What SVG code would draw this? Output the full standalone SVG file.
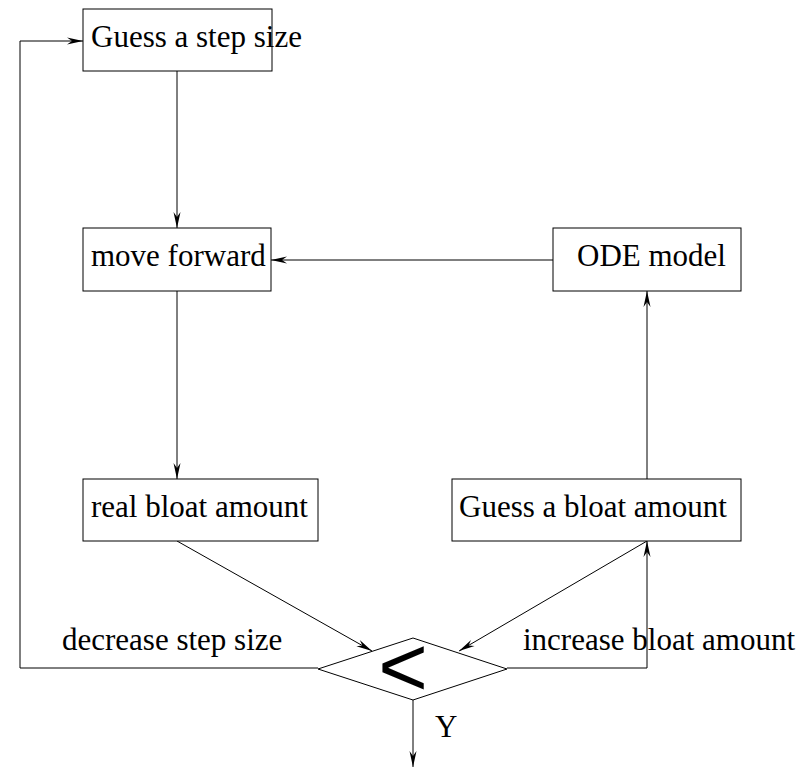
<svg xmlns="http://www.w3.org/2000/svg" width="811" height="768" viewBox="0 0 811 768">
<style>
.box{fill:#fff;stroke:#000;stroke-width:1}
.lbl{font-family:"Liberation Serif","Times New Roman",serif;font-size:31px;fill:#000}
.con{fill:none;stroke:#000;stroke-width:1}
</style>
<defs>
<marker id="ah" markerUnits="userSpaceOnUse" markerWidth="20" markerHeight="10" refX="0" refY="0" viewBox="-17 -5 18 10" orient="auto">
<path d="M0,0 L-16,-3.5 L-11,0 L-16,3.5 Z" fill="#000"/>
</marker>
</defs>
<rect width="811" height="768" fill="#fff"/>
<g id="connectors">
<polyline class="con" points="318,668 20,668 20,41 83,41" marker-end="url(#ah)"/>
<line class="con" x1="177" y1="71" x2="177" y2="228" marker-end="url(#ah)"/>
<line class="con" x1="553" y1="260" x2="271" y2="260" marker-end="url(#ah)"/>
<line class="con" x1="177" y1="291" x2="177" y2="479" marker-end="url(#ah)"/>
<line class="con" x1="647" y1="479" x2="647" y2="291" marker-end="url(#ah)"/>
<line class="con" x1="177" y1="541" x2="372" y2="651" marker-end="url(#ah)"/>
<line class="con" x1="647" y1="541" x2="459" y2="651" marker-end="url(#ah)"/>
<polyline class="con" points="507,668 647,668 647,541" marker-end="url(#ah)"/>
<line class="con" x1="413" y1="700" x2="413" y2="767" marker-end="url(#ah)"/>
</g>
<g id="guess-step">
<rect class="box" x="83" y="9" width="189" height="62"/>
<text class="lbl" x="91" y="47">Guess a step size</text>
</g>
<g id="move-forward">
<rect class="box" x="83" y="228" width="188" height="63"/>
<text class="lbl" x="91" y="266">move forward</text>
</g>
<g id="ode-model">
<rect class="box" x="553" y="228" width="188" height="63"/>
<text class="lbl" x="577" y="266">ODE model</text>
</g>
<g id="real-bloat">
<rect class="box" x="83" y="479" width="235" height="62"/>
<text class="lbl" x="91" y="517">real bloat amount</text>
</g>
<g id="guess-bloat">
<rect class="box" x="452" y="479" width="289" height="62"/>
<text class="lbl" x="459" y="517">Guess a bloat amount</text>
</g>
<g id="compare">
<polygon class="box" points="318,669 413,638 507,669 413,700"/>
<text x="403" y="696" text-anchor="middle" font-family="Liberation Sans, Arial, sans-serif" font-size="85" fill="#000">&lt;</text>
</g>
<g id="labels">
<text class="lbl" x="62" y="650">decrease step size</text>
<text class="lbl" x="523" y="650">increase bloat amount</text>
<text class="lbl" x="435" y="737">Y</text>
</g>
</svg>
